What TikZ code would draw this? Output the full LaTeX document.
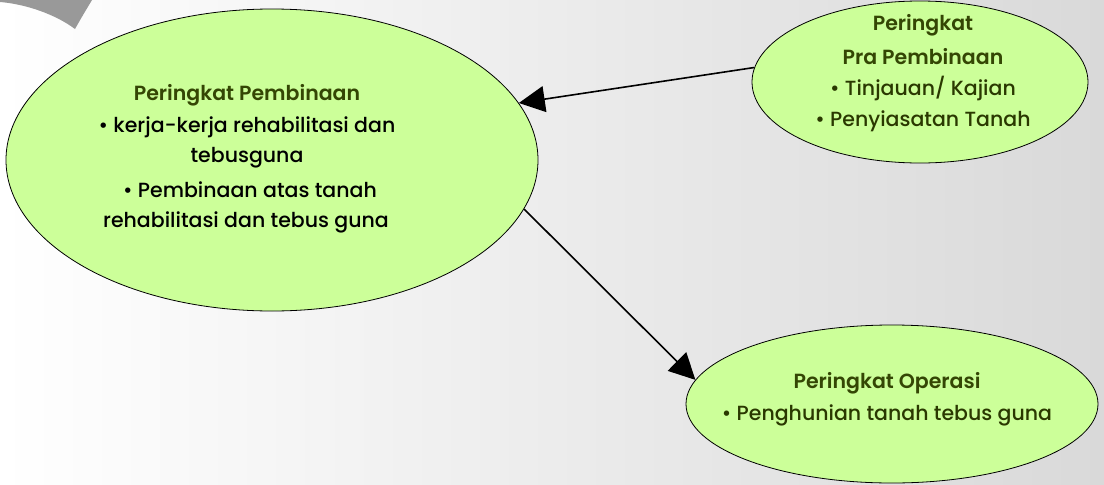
\documentclass[tikz,border=0pt]{standalone}
\usepackage{fontspec}
\setmainfont{Poppins}[UprightFont={* Medium}]
\newfontfamily\popsb{Poppins}[UprightFont={* SemiBold}]
\usetikzlibrary{shapes.geometric,arrows.meta}
\definecolor{fillgreen}{RGB}{204,255,153}
\definecolor{titlecol}{RGB}{52,70,4}
\definecolor{olivetext}{RGB}{42,56,0}
\definecolor{bgright}{RGB}{217,217,217}
\definecolor{swoosh}{RGB}{153,153,153}
\tikzset{
  stage/.style={ellipse, draw=black, line width=0.8pt, fill=fillgreen, inner sep=0pt},
  ttl/.style={font=\popsb\fontsize{20.5}{32}\selectfont, text=titlecol, align=center, inner sep=0pt},
  body/.style={font=\fontsize{20.5}{32}\selectfont, align=center, inner sep=0pt},
  link/.style={line width=1.6pt, -{Triangle[length=26pt,width=26pt]}}
}
\begin{document}
\begin{tikzpicture}[x=1pt,y=-1pt]
\useasboundingbox (0,0) rectangle (1104,485);
\shade[left color=white, right color=bgright] (0,0) rectangle (1104,485);
\fill[swoosh] (0,0) -- (92,0) .. controls (86,10) and (80,20) .. (75,29)
  .. controls (55,14) and (25,4) .. (0,2) -- cycle;
% ellipses
\node[stage, minimum width=532pt, minimum height=302pt] (pemb) at (272,160) {};
\node[stage, minimum width=336pt, minimum height=162pt] (pra) at (920,82) {};
\node[stage, minimum width=412pt, minimum height=158pt] (oper) at (892,404) {};
% texts
\node[ttl] (t1) at (247,95) {Peringkat Pembinaan};
\node[body] (b1) at (247,127) {• kerja-kerja rehabilitasi dan};
\node[body] (b2) at (247,158) {tebusguna};
\node[body] (b3) at (250,190) {• Pembinaan atas tanah};
\node[body] (b4) at (246,222) {rehabilitasi dan tebus guna};
\node[ttl] (t2) at (923,25) {Peringkat};
\node[ttl] (t3) at (923,57) {Pra Pembinaan};
\node[body, text=olivetext] (b5) at (923,89) {• Tinjauan/ Kajian};
\node[body, text=olivetext] (b6) at (923,121) {• Penyiasatan Tanah};
\node[ttl] (t4) at (887,383) {Peringkat Operasi};
\node[body, text=olivetext] (b7) at (887,415) {• Penghunian tanah tebus guna};
% connectors
\draw[link] (pra.175) -- (pemb.13);
\draw[link] (pemb.-11) -- (oper.173);
\end{tikzpicture}
\end{document}
